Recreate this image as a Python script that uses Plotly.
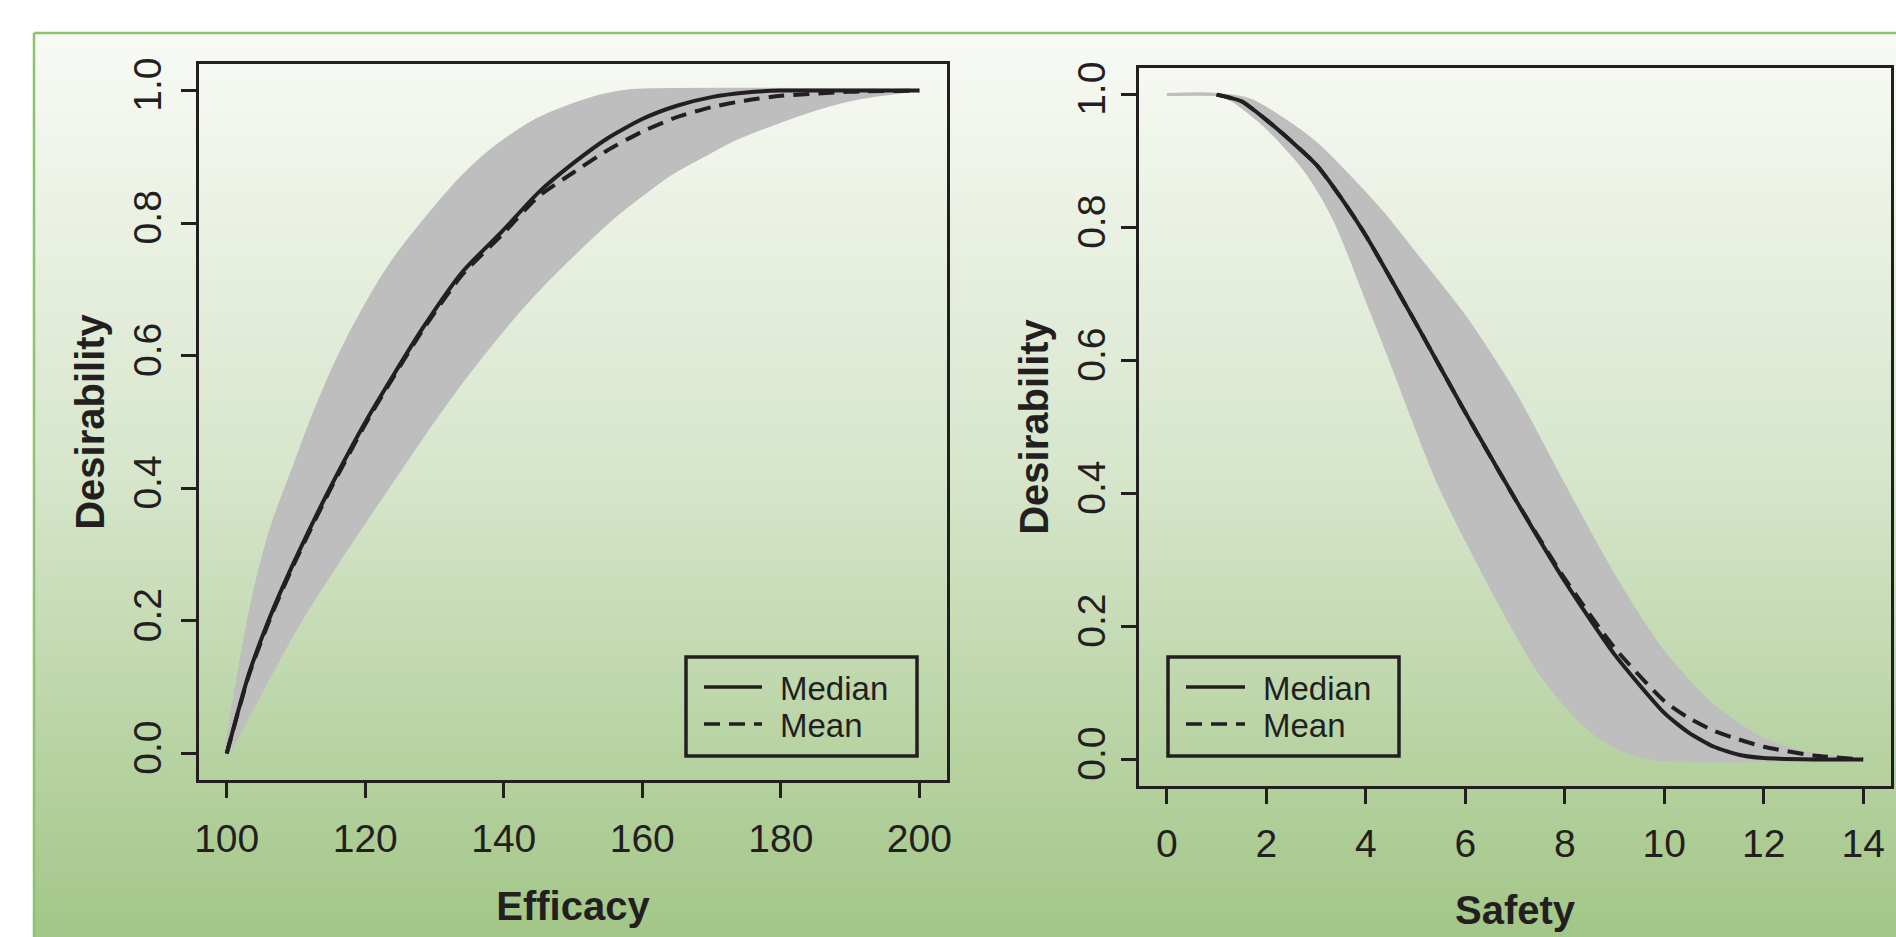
import base64
import plotly.graph_objects as go

W, H = 1896, 937
INK = "#231f20"
GRAY = "#bebebe"
FONT = "Liberation Sans, Arial, Helvetica, sans-serif"

# ---------------- data ----------------
# Efficacy panel: envelope of the simulated desirability curves
eff_upper_x = [100, 101.3, 103.9, 106.6, 110, 112.4, 116.2, 120, 124, 128.2, 134, 138.8, 144.6, 150.4, 154.4, 158.5, 200]
eff_upper_y = [0, 0.093, 0.239, 0.345, 0.44, 0.507, 0.599, 0.675, 0.743, 0.80, 0.87, 0.915, 0.955, 0.98, 0.993, 1.0, 1.0]
eff_lower_x = [100, 104.2, 110, 116.7, 123, 130.2, 136.4, 143.6, 150, 156.9, 164.1, 168.9, 173.7, 183.3, 190.5, 197.7, 200]
eff_lower_y = [0, 0.078, 0.189, 0.299, 0.397, 0.507, 0.594, 0.684, 0.752, 0.818, 0.874, 0.902, 0.928, 0.966, 0.987, 0.998, 1.0]
eff_x = [100, 103.2, 106.6, 110, 114.8, 120.3, 128.2, 134, 139.8, 145, 150, 155, 160, 165, 170, 175, 180, 190, 200]
eff_median = [0, 0.12, 0.215, 0.295, 0.398, 0.505, 0.64, 0.726, 0.788, 0.846, 0.89, 0.928, 0.957, 0.977, 0.99, 0.997, 1.0, 1.0, 1.0]
eff_mean = [0, 0.118, 0.212, 0.292, 0.395, 0.502, 0.637, 0.722, 0.783, 0.84, 0.876, 0.91, 0.938, 0.96, 0.975, 0.985, 0.992, 0.998, 1.0]

# Safety panel
saf_upper_x = [0, 1, 1.67, 2.34, 3.01, 3.68, 4.35, 5, 6, 7, 8, 9, 10, 11, 12, 13, 14]
saf_upper_y = [1, 1, 0.992, 0.963, 0.926, 0.876, 0.821, 0.76, 0.665, 0.55, 0.41, 0.275, 0.16, 0.08, 0.03, 0.007, 0]
saf_lower_x = [0, 1, 1.33, 2.0, 2.68, 3.0, 3.35, 3.65, 3.88, 4.2, 4.5, 5.47, 6.7, 7.5, 8.27, 8.8, 9.27, 9.9, 14]
saf_lower_y = [1, 1, 0.991, 0.951, 0.896, 0.862, 0.815, 0.763, 0.718, 0.657, 0.6, 0.414, 0.233, 0.13, 0.06, 0.028, 0.011, 0.0, 0.0]
saf_x = [1, 1.5, 2, 2.5, 3, 3.5, 4, 5, 6, 7, 8, 9, 10, 10.5, 11, 11.5, 12, 13, 14]
saf_median = [1.0, 0.99, 0.962, 0.93, 0.895, 0.845, 0.788, 0.657, 0.522, 0.392, 0.268, 0.158, 0.07, 0.04, 0.019, 0.007, 0.002, 0.0, 0.0]
saf_mean = [1.0, 0.99, 0.962, 0.93, 0.895, 0.845, 0.788, 0.657, 0.522, 0.392, 0.272, 0.168, 0.088, 0.062, 0.043, 0.03, 0.019, 0.006, 0.0]

eff_ticks = [100, 120, 140, 160, 180, 200]
saf_ticks = [0, 2, 4, 6, 8, 10, 12, 14]
y_ticks = [0.0, 0.2, 0.4, 0.6, 0.8, 1.0]
legend_labels = ["Median", "Mean"]


def px(x):
    return x / W


def py(y):
    return 1 - y / H


fig = go.Figure()


def add_panel(xa, ya, ux, uy, lx, ly, cx, med, mean):
    fig.add_trace(go.Scatter(
        x=ux + lx[::-1], y=uy + ly[::-1], xaxis=xa, yaxis=ya,
        fill="toself", fillcolor=GRAY, mode="lines",
        line=dict(color=GRAY, width=3, shape="spline", smoothing=0.7),
        hoverinfo="skip", showlegend=False))
    fig.add_trace(go.Scatter(
        x=cx, y=mean, xaxis=xa, yaxis=ya, mode="lines", name="Mean",
        line=dict(color=INK, width=4, dash="16px,9px", shape="spline", smoothing=0.6),
        showlegend=False))
    fig.add_trace(go.Scatter(
        x=cx, y=med, xaxis=xa, yaxis=ya, mode="lines", name="Median",
        line=dict(color=INK, width=4, shape="spline", smoothing=0.6),
        showlegend=False))


add_panel("x", "y", eff_upper_x, eff_upper_y, eff_lower_x, eff_lower_y, eff_x, eff_median, eff_mean)
add_panel("x2", "y2", saf_upper_x, saf_upper_y, saf_lower_x, saf_lower_y, saf_x, saf_median, saf_mean)

axis_common = dict(
    showline=True, mirror=True, linecolor=INK, linewidth=3,
    ticks="outside", ticklen=15, tickwidth=3, tickcolor=INK,
    showgrid=False, zeroline=False, automargin=False,
    tickfont=dict(size=39, color=INK, family=FONT),
)
title_font = dict(size=40, color=INK, family=FONT, weight="bold")

fig.update_layout(
    width=W, height=H, autosize=False, template="none",
    margin=dict(l=0, r=0, t=0, b=0, pad=0),
    paper_bgcolor="white", plot_bgcolor="rgba(0,0,0,0)",
    font=dict(family=FONT, color=INK),
    showlegend=False,
    xaxis=dict(domain=[px(199), px(947)], range=[96, 204], tickvals=eff_ticks,
               ticklabelstandoff=7, anchor="y",
               title=dict(text="Efficacy", font=title_font, standoff=34), **axis_common),
    yaxis=dict(domain=[py(780), py(64)], range=[-0.04, 1.04], tickvals=y_ticks,
               tickformat=".1f", tickangle=-90, ticklabelstandoff=4, anchor="x",
               title=dict(text="Desirability", font=title_font, standoff=10), **axis_common),
    xaxis2=dict(domain=[px(1139), px(1891)], range=[-0.56, 14.56], tickvals=saf_ticks,
                ticklabelstandoff=6, anchor="y2",
                title=dict(text="Safety", font=title_font, standoff=33), **axis_common),
    yaxis2=dict(domain=[py(786), py(68)], range=[-0.04, 1.04], tickvals=y_ticks,
                tickformat=".1f", tickangle=-90, ticklabelstandoff=0, anchor="x2",
                title=dict(text="Desirability", font=title_font, standoff=10), **axis_common),
)

# background gradient panel
svg = ("<svg xmlns='http://www.w3.org/2000/svg' width='100' height='100' viewBox='0 0 100 100' "
       "preserveAspectRatio='none'><defs><linearGradient id='g' x1='0' y1='0' x2='0' y2='1'>"
       "<stop offset='0' stop-color='#f8faf5'/><stop offset='0.5' stop-color='#d6e5ca'/>"
       "<stop offset='1' stop-color='#a2c687'/></linearGradient></defs>"
       "<rect width='100' height='100' fill='url(#g)'/></svg>")
src = "data:image/svg+xml;base64," + base64.b64encode(svg.encode()).decode()
fig.add_layout_image(dict(source=src, xref="paper", yref="paper", x=px(35), y=py(34),
                          sizex=px(W - 35), sizey=(H - 34) / H, sizing="stretch",
                          xanchor="left", yanchor="top", layer="below"))

shapes = [
    dict(type="line", xref="paper", yref="paper", x0=px(34), x1=px(34), y0=py(33), y1=0,
         line=dict(color="#8cc46e", width=2.5)),
    dict(type="line", xref="paper", yref="paper", x0=px(34), x1=1, y0=py(33), y1=py(33),
         line=dict(color="#8cc46e", width=2.5)),
]

# legends (one per panel)
annotations = []
for (bx0, bx1, lx0, lx1, tx) in [(686, 917, 704, 762, 778), (1168, 1399, 1186, 1245, 1261)]:
    shapes.append(dict(type="rect", xref="paper", yref="paper", x0=px(bx0), x1=px(bx1),
                       y0=py(756), y1=py(657), line=dict(color=INK, width=3.5),
                       fillcolor="rgba(0,0,0,0)"))
    for lab, yy, dash in [(legend_labels[0], 687, "solid"), (legend_labels[1], 724, "16px,9px")]:
        shapes.append(dict(type="line", xref="paper", yref="paper", x0=px(lx0), x1=px(lx1),
                           y0=py(yy), y1=py(yy), line=dict(color=INK, width=3.5, dash=dash)))
        annotations.append(dict(text=lab, xref="paper", yref="paper", x=px(tx), y=py(yy + 1),
                                xanchor="left", yanchor="middle", showarrow=False,
                                font=dict(size=33, color=INK, family=FONT)))

fig.update_layout(shapes=shapes, annotations=annotations)
fig.write_html("out.html")
